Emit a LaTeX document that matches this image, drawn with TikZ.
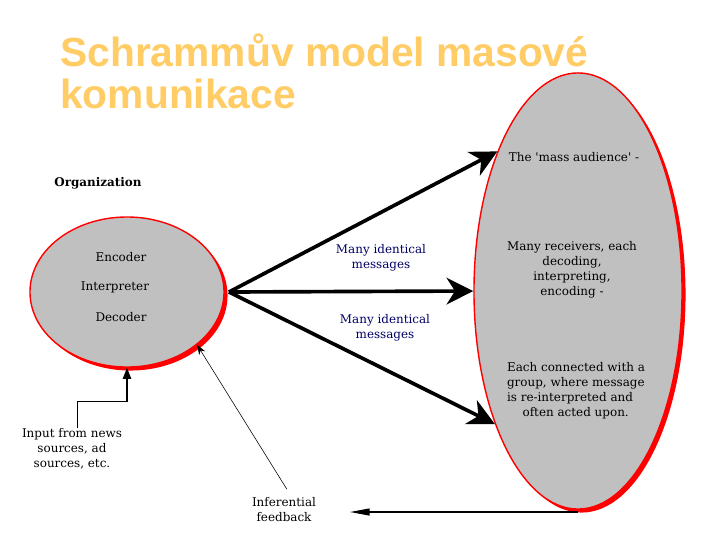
\documentclass[tikz,border=0pt]{standalone}
\usepackage{fontspec}
\setmainfont{DejaVu Serif}
\newfontfamily\titlefont{Liberation Sans}
\usetikzlibrary{shapes.geometric,shadows}
\usetikzlibrary{arrows.meta}
\definecolor{titleorange}{RGB}{255,204,102}
\definecolor{blobgray}{RGB}{192,192,192}
\definecolor{msgblue}{RGB}{0,0,102}

\begin{document}
\begin{tikzpicture}[x=0.025cm,y=-0.025cm,
  blob/.style={ellipse,fill=blobgray,draw=red,line width=1pt,inner sep=0pt,
    drop shadow={shadow xshift=2.5pt,shadow yshift=-2.5pt,fill=red,opacity=1}},
  lbl/.style={font=\fontsize{8.5}{10.7}\selectfont,align=center,inner sep=0pt},
  msg/.style={lbl,text=msgblue},
  flow/.style={line width=2.6pt,-{Stealth[length=19pt,width=19pt,inset=6pt]}}]
\useasboundingbox (0,0) rectangle (720,540);
\node[anchor=base west,inner sep=0pt,text=titleorange,font=\titlefont\bfseries\fontsize{29}{32}\selectfont] (title1) at (60,66) {Schrammův model masové};
\node[anchor=base west,inner sep=0pt,text=titleorange,font=\titlefont\bfseries\fontsize{29}{32}\selectfont] (title2) at (60,108) {komunikace};
\node[blob,minimum width=4.85cm,minimum height=3.75cm] (org) at (127,292) {};
\node[blob,minimum width=5.2cm,minimum height=10.9cm] (aud) at (578,291) {};
\node[lbl,font=\bfseries\fontsize{8.5}{10}\selectfont] (orgname) at (98,183) {Organization};
\node[lbl] (enc) at (121,257) {Encoder};
\node[lbl] (intp) at (115,287) {Interpreter};
\node[lbl] (dec) at (121,317) {Decoder};
\node[msg] (msgup) at (381,258) {Many identical\\messages};
\node[msg] (msgdown) at (385,328) {Many identical\\messages};
\node[lbl] (mass) at (574,157) {The \textquotesingle mass audience\textquotesingle\ -};
\node[lbl] (recv) at (572,270) {Many receivers, each\\decoding,\\interpreting,\\encoding -};
\node[lbl,align=left] (group) at (576,391) {Each connected with a\\group, where message\\is re-interpreted and\\\hspace*{1.3em}often acted upon.};
\node[lbl] (input) at (72,449) {Input from news\\sources, ad\\sources, etc.};
\node[lbl] (infer) at (284,510) {Inferential\\feedback};
\coordinate (src) at ([xshift=3pt]org.east);
\coordinate (fbend) at (350,512);
\draw[flow] (src) -- (aud.120);
\draw[flow] (src) -- (aud.west);
\draw[flow] (src) -- (aud.238);
\draw[line width=0.8pt,-{Triangle[length=8pt,width=6pt]}] ([xshift=4pt]input.north) -- ++(0,-27) -| (org.south);
\draw[line width=0.4pt,-{Stealth[length=7pt,width=5pt]}] ([xshift=2pt,yshift=6pt]infer.north) -- (org.-37);
\draw[line width=0.8pt,-{Triangle[length=14pt,width=5pt]}] (fbend -| aud.south) -- (fbend);
\end{tikzpicture}
\end{document}
